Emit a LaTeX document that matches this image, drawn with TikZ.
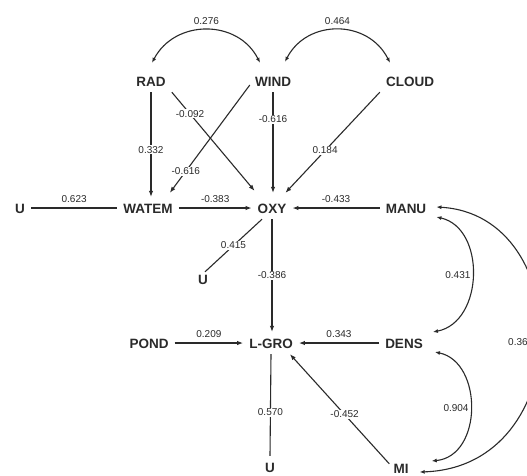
\documentclass[tikz,border=0pt]{standalone}
\usepackage{fontspec}
\setmainfont{Liberation Sans}
\usetikzlibrary{arrows.meta}
\definecolor{ink}{HTML}{2A2A2A}
\begin{document}
\begin{tikzpicture}[x=1pt,y=-1pt,
  var/.style={font=\fontsize{13.5}{14}\selectfont\bfseries, text=ink, inner sep=6pt, text height=10pt, text depth=0pt},
  lbl/.style={font=\fontsize{10}{11}\selectfont, text=ink, fill=white, inner sep=1pt},
  conn/.style={draw=ink, line width=1.1pt, -{Latex[length=6pt,width=4.5pt]}},
  ulink/.style={draw=ink, line width=1.1pt},
  corr/.style={draw=ink, line width=1.1pt, {Latex[length=5pt,width=4pt]}-{Latex[length=5pt,width=4pt]}}
]
\fill[white] (0,0) rectangle (527,475);
\useasboundingbox (0,0) rectangle (527,475);
\clip (0,0) rectangle (527,475);

% variables
\node[var] (RAD) at (151,81) {RAD};
\node[var] (WIND) at (273,81) {WIND};
\node[var] (CLOUD) at (410,81) {CLOUD};
\node[var] (U1) at (20,208) {U};
\node[var] (WATEM) at (148,208) {WATEM};
\node[var] (OXY) at (272,208) {OXY};
\node[var] (MANU) at (406,208) {MANU};
\node[var] (U2) at (203,279) {U};
\node[var] (POND) at (149,343) {POND};
\node[var] (LGRO) at (271,343) {L-GRO};
\node[var] (DENS) at (404,343) {DENS};
\node[var] (U3) at (270,467) {U};
\node[var] (MI) at (401,468) {MI};

% top correlations
\draw[corr] ([shift={(1,-7)}]RAD.north) .. controls (175,19) and (238,19) .. ([shift={(-13,-7)}]WIND.north)
  node[lbl,pos=.5,above=4pt,fill=none]{0.276};
\draw[corr] ([shift={(12,-8)}]WIND.north) .. controls (307,19) and (368,19) .. ([shift={(-20,-7)}]CLOUD.north)
  node[lbl,pos=.5,above=4pt,fill=none]{0.464};

% paths into WATEM and OXY
\draw[conn] (RAD.south) -- (RAD.south |- WATEM.north) node[lbl,pos=.55]{0.332};
\draw[conn] (RAD.south east) -- ([shift={(3,-6)}]OXY.north west) node[lbl,pos=.22]{-0.092};
\draw[conn] ([shift={(1,4)}]WIND.west) -- ([shift={(-9,-4)}]WATEM.north east) node[lbl,pos=.8]{-0.616};
\draw[conn] (WIND.south) -- ([shift={(0,-4)}]WIND.south |- OXY.north) node[lbl,pos=.27]{-0.616};
\draw[conn] (CLOUD.south west) -- ([shift={(-7,-4)}]OXY.north east) node[lbl,pos=.58]{0.184};
\draw[ulink] (U1) -- (WATEM) node[lbl,pos=.5,above=4pt,fill=none]{0.623};
\draw[conn] (WATEM) -- (OXY) node[lbl,pos=.5,above=4pt,fill=none]{-0.383};
\draw[conn] (MANU) -- (OXY) node[lbl,pos=.5,above=4pt,fill=none]{-0.433};
\draw[ulink] ([shift={(-10,0)}]OXY.south) -- ([shift={(2,4)}]U2.north) node[lbl,pos=.5]{0.415};

% paths into L-GRO
\draw[conn] (OXY.south) -- (OXY.south |- LGRO.north) node[lbl,pos=.5]{-0.386};
\draw[conn] (POND) -- (LGRO) node[lbl,pos=.5,above=4pt,fill=none]{0.209};
\draw[conn] (DENS) -- (LGRO) node[lbl,pos=.5,above=4pt,fill=none]{0.343};
\draw[conn] ([shift={(2,7)}]MI.north west) -- ([shift={(-9,0)}]LGRO.south east) node[lbl,pos=.45]{-0.452};
\draw[ulink] (LGRO.south) -- (U3.north) node[lbl,pos=.57]{0.570};

% right correlations
\draw[corr] ([shift={(4,9)}]MANU.east) .. controls (486,228) and (484,322) .. ([shift={(4,-11)}]DENS.east)
  node[lbl,pos=.5,left=0.5pt,fill=none]{0.431};
\draw[corr] ([shift={(6,9)}]DENS.east) .. controls (483,362) and (483,456) .. ([shift={(17,-7)}]MI.east)
  node[lbl,pos=.5,left=0.5pt,fill=none]{0.904};
\draw[corr] ([shift={(4,-1)}]MANU.east) .. controls (577,215) and (577,467) .. ([shift={(5,4)}]MI.east);
\node[lbl,anchor=west,fill=none] (l36) at (507,342) {0.36};
\end{tikzpicture}
\end{document}
